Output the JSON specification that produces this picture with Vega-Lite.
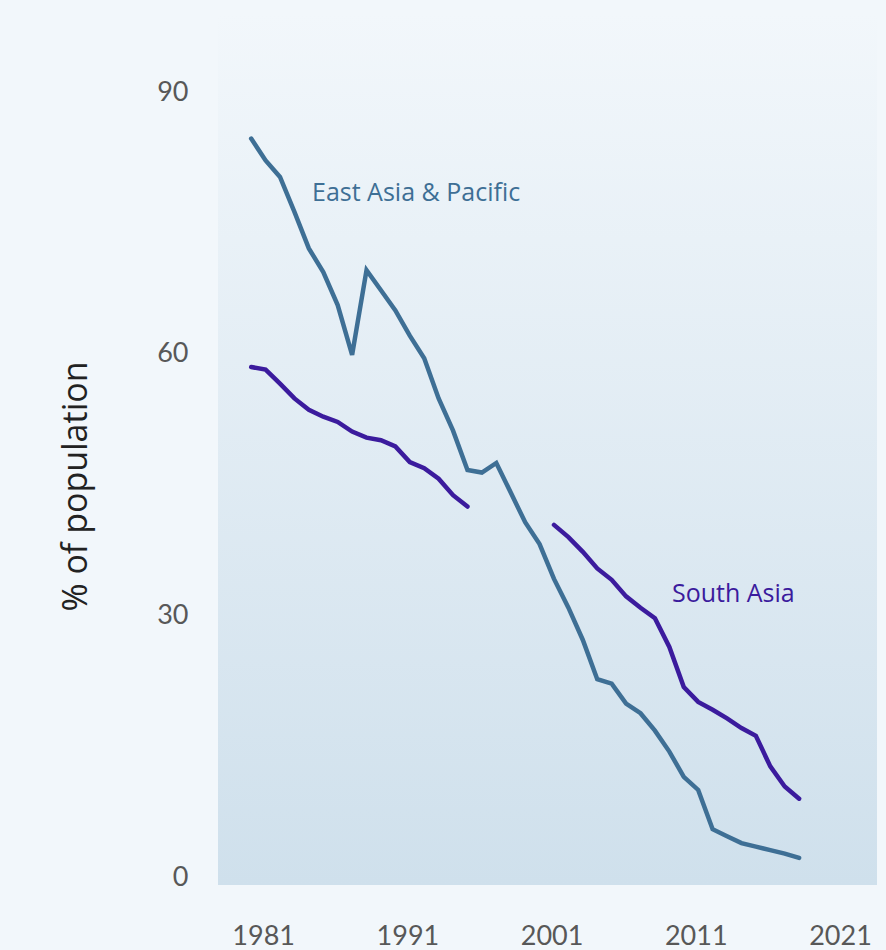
{
  "$schema": "https://vega.github.io/schema/vega-lite/v6.json",
  "width": 659,
  "height": 872,
  "autosize": {"type": "none"},
  "padding": {"left": 218, "top": 13, "right": 9, "bottom": 65},
  "background": "#f2f7fb",
  "config": {
    "font": "Lato",
    "view": {
      "stroke": null,
      "fill": {
        "gradient": "linear",
        "x1": 0, "y1": 0, "x2": 0, "y2": 1,
        "stops": [
          {"offset": 0, "color": "#f2f7fb"},
          {"offset": 1, "color": "#cfe0ec"}
        ]
      }
    },
    "axis": {
      "grid": false,
      "domain": false,
      "ticks": false,
      "labelFont": "Lato",
      "labelFontSize": 27,
      "labelColor": "#585858"
    }
  },
  "datasets": {
    "poverty": [
      {"region": "East Asia & Pacific", "part": "a", "year": 1981, "rate": 85.6},
      {"region": "East Asia & Pacific", "part": "a", "year": 1982, "rate": 83.1},
      {"region": "East Asia & Pacific", "part": "a", "year": 1983, "rate": 81.2},
      {"region": "East Asia & Pacific", "part": "a", "year": 1984, "rate": 77.2},
      {"region": "East Asia & Pacific", "part": "a", "year": 1985, "rate": 73.0},
      {"region": "East Asia & Pacific", "part": "a", "year": 1986, "rate": 70.3},
      {"region": "East Asia & Pacific", "part": "a", "year": 1987, "rate": 66.5},
      {"region": "East Asia & Pacific", "part": "a", "year": 1988, "rate": 60.8},
      {"region": "East Asia & Pacific", "part": "a", "year": 1989, "rate": 70.5},
      {"region": "East Asia & Pacific", "part": "a", "year": 1990, "rate": 68.2},
      {"region": "East Asia & Pacific", "part": "a", "year": 1991, "rate": 65.9},
      {"region": "East Asia & Pacific", "part": "a", "year": 1992, "rate": 63.0},
      {"region": "East Asia & Pacific", "part": "a", "year": 1993, "rate": 60.4},
      {"region": "East Asia & Pacific", "part": "a", "year": 1994, "rate": 55.8},
      {"region": "East Asia & Pacific", "part": "a", "year": 1995, "rate": 52.1},
      {"region": "East Asia & Pacific", "part": "a", "year": 1996, "rate": 47.6},
      {"region": "East Asia & Pacific", "part": "a", "year": 1997, "rate": 47.3},
      {"region": "East Asia & Pacific", "part": "a", "year": 1998, "rate": 48.4},
      {"region": "East Asia & Pacific", "part": "a", "year": 1999, "rate": 45.0},
      {"region": "East Asia & Pacific", "part": "a", "year": 2000, "rate": 41.6},
      {"region": "East Asia & Pacific", "part": "a", "year": 2001, "rate": 39.1},
      {"region": "East Asia & Pacific", "part": "a", "year": 2002, "rate": 35.1},
      {"region": "East Asia & Pacific", "part": "a", "year": 2003, "rate": 31.8},
      {"region": "East Asia & Pacific", "part": "a", "year": 2004, "rate": 28.1},
      {"region": "East Asia & Pacific", "part": "a", "year": 2005, "rate": 23.6},
      {"region": "East Asia & Pacific", "part": "a", "year": 2006, "rate": 23.1},
      {"region": "East Asia & Pacific", "part": "a", "year": 2007, "rate": 20.8},
      {"region": "East Asia & Pacific", "part": "a", "year": 2008, "rate": 19.7},
      {"region": "East Asia & Pacific", "part": "a", "year": 2009, "rate": 17.7},
      {"region": "East Asia & Pacific", "part": "a", "year": 2010, "rate": 15.3},
      {"region": "East Asia & Pacific", "part": "a", "year": 2011, "rate": 12.4},
      {"region": "East Asia & Pacific", "part": "a", "year": 2012, "rate": 10.9},
      {"region": "East Asia & Pacific", "part": "a", "year": 2013, "rate": 6.4},
      {"region": "East Asia & Pacific", "part": "a", "year": 2014, "rate": 5.6},
      {"region": "East Asia & Pacific", "part": "a", "year": 2015, "rate": 4.8},
      {"region": "East Asia & Pacific", "part": "a", "year": 2016, "rate": 4.4},
      {"region": "East Asia & Pacific", "part": "a", "year": 2017, "rate": 4.0},
      {"region": "East Asia & Pacific", "part": "a", "year": 2018, "rate": 3.6},
      {"region": "East Asia & Pacific", "part": "a", "year": 2019, "rate": 3.1},
      {"region": "South Asia", "part": "b", "year": 1981, "rate": 59.4},
      {"region": "South Asia", "part": "b", "year": 1982, "rate": 59.1},
      {"region": "South Asia", "part": "b", "year": 1983, "rate": 57.5},
      {"region": "South Asia", "part": "b", "year": 1984, "rate": 55.8},
      {"region": "South Asia", "part": "b", "year": 1985, "rate": 54.5},
      {"region": "South Asia", "part": "b", "year": 1986, "rate": 53.7},
      {"region": "South Asia", "part": "b", "year": 1987, "rate": 53.1},
      {"region": "South Asia", "part": "b", "year": 1988, "rate": 52.0},
      {"region": "South Asia", "part": "b", "year": 1989, "rate": 51.3},
      {"region": "South Asia", "part": "b", "year": 1990, "rate": 51.0},
      {"region": "South Asia", "part": "b", "year": 1991, "rate": 50.3},
      {"region": "South Asia", "part": "b", "year": 1992, "rate": 48.5},
      {"region": "South Asia", "part": "b", "year": 1993, "rate": 47.8},
      {"region": "South Asia", "part": "b", "year": 1994, "rate": 46.6},
      {"region": "South Asia", "part": "b", "year": 1995, "rate": 44.7},
      {"region": "South Asia", "part": "b", "year": 1996, "rate": 43.4},
      {"region": "South Asia", "part": "c", "year": 2002, "rate": 41.3},
      {"region": "South Asia", "part": "c", "year": 2003, "rate": 39.9},
      {"region": "South Asia", "part": "c", "year": 2004, "rate": 38.2},
      {"region": "South Asia", "part": "c", "year": 2005, "rate": 36.3},
      {"region": "South Asia", "part": "c", "year": 2006, "rate": 35.0},
      {"region": "South Asia", "part": "c", "year": 2007, "rate": 33.1},
      {"region": "South Asia", "part": "c", "year": 2008, "rate": 31.8},
      {"region": "South Asia", "part": "c", "year": 2009, "rate": 30.6},
      {"region": "South Asia", "part": "c", "year": 2010, "rate": 27.3},
      {"region": "South Asia", "part": "c", "year": 2011, "rate": 22.7},
      {"region": "South Asia", "part": "c", "year": 2012, "rate": 21.0},
      {"region": "South Asia", "part": "c", "year": 2013, "rate": 20.1},
      {"region": "South Asia", "part": "c", "year": 2014, "rate": 19.1},
      {"region": "South Asia", "part": "c", "year": 2015, "rate": 18.0},
      {"region": "South Asia", "part": "c", "year": 2016, "rate": 17.1},
      {"region": "South Asia", "part": "c", "year": 2017, "rate": 13.6},
      {"region": "South Asia", "part": "c", "year": 2018, "rate": 11.3},
      {"region": "South Asia", "part": "c", "year": 2019, "rate": 9.9}
    ],
    "labels": [
      {"region": "East Asia & Pacific"},
      {"region": "South Asia"}
    ]
  },
  "layer": [
    {
      "data": {"name": "poverty"},
      "mark": {"type": "line", "strokeWidth": 4.5, "strokeCap": "round"},
      "encoding": {
        "x": {
          "field": "year",
          "type": "quantitative",
          "scale": {"domain": [1978.7, 2024.4], "nice": false, "zero": false},
          "axis": {
            "values": [1981, 1991, 2001, 2011, 2021],
            "format": "d",
            "title": null,
            "labelPadding": 38,
            "labelOffset": 12,
            "labelBaseline": "top"
          }
        },
        "y": {
          "field": "rate",
          "type": "quantitative",
          "scale": {"domain": [0, 100], "nice": false},
          "axis": {
            "values": [0, 30, 60, 90],
            "title": "% of population",
            "labelPadding": 30,
            "labelBaseline": "alphabetic",
            "titleFont": "Open Sans",
            "titleFontSize": 34,
            "titleFontWeight": "normal",
            "titleColor": "#222222",
            "titleAngle": -90,
            "titleX": -142,
            "titleY": 473,
            "titleAlign": "center",
            "titleBaseline": "middle"
          }
        },
        "color": {
          "field": "region",
          "type": "nominal",
          "scale": {"domain": ["East Asia & Pacific", "South Asia"], "range": ["#3e6f95", "#3b1b9d"]},
          "legend": null
        },
        "detail": {"field": "part", "type": "nominal"}
      }
    },
    {
      "data": {"name": "labels"},
      "transform": [{"filter": "datum.region === 'East Asia & Pacific'"}],
      "mark": {"type": "text", "align": "left", "baseline": "middle", "font": "Open Sans", "fontSize": 25, "color": "#3e6f95"},
      "encoding": {
        "x": {"datum": 1985.22},
        "y": {"datum": 79.4},
        "text": {"field": "region"}
      }
    },
    {
      "data": {"name": "labels"},
      "transform": [{"filter": "datum.region === 'South Asia'"}],
      "mark": {"type": "text", "align": "left", "baseline": "middle", "font": "Open Sans", "fontSize": 25, "color": "#3b1b9d"},
      "encoding": {
        "x": {"datum": 2010.18},
        "y": {"datum": 33.4},
        "text": {"field": "region"}
      }
    }
  ]
}
